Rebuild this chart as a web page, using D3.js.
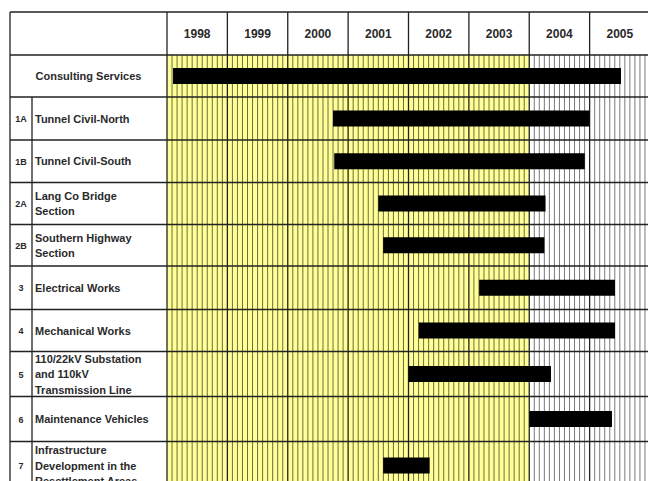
<!DOCTYPE html>
<html>
<head>
<meta charset="utf-8">
<script src="https://cdn.jsdelivr.net/npm/d3@7"></script>
<style>
  body { margin: 0; background: #fff; }
  text { font-family: Arial, "Liberation Sans", sans-serif; font-weight: bold; fill: #2a2a2a; }
</style>
</head>
<body>
<div id="chart"></div>
<script>
const years = [1998, 1999, 2000, 2001, 2002, 2003, 2004, 2005];
const codes = ["", "1A", "1B", "2A", "2B", "3", "4", "5", "6", "7"];
const tasks = [
  ["Consulting Services"],
  ["Tunnel Civil-North"],
  ["Tunnel Civil-South"],
  ["Lang Co Bridge", "Section"],
  ["Southern Highway", "Section"],
  ["Electrical Works"],
  ["Mechanical Works"],
  ["110/22kV Substation", "and 110kV", "Transmission Line"],
  ["Maintenance Vehicles"],
  ["Infrastructure", "Development in the", "Resettlement Areas"]
];
const starts = [1998.1, 2000.75, 2000.77, 2001.5, 2001.58, 2003.17, 2002.17, 2002.0, 2004.0, 2001.58];
const ends   = [2005.52, 2005.0, 2004.92, 2004.27, 2004.25, 2005.42, 2005.42, 2004.36, 2005.37, 2002.35];
const actualEnd = 2004; // yellow shading up to here

const W = 648, H = 481;
const svg = d3.select("#chart").append("svg").attr("width", W).attr("height", H);

// table layout
const left = 10, codeW = 22, labelRight = 167, tableTop = 12, headH = 43;
const rowHeights = [42, 43, 42.5, 42, 41.5, 43.5, 42, 45, 45, 48];
const bodyTop = tableTop + headH, bodyBot = H + 20;
const rowTop = [bodyTop].concat(Array.from(d3.cumsum(rowHeights)).map(v => bodyTop + v));
const rowMid = i => rowTop[i] + rowHeights[i] / 2;
const x = d3.scaleLinear().domain([1998, 2006]).range([labelRight, 650]);
const ink = "#222";

// shading
svg.append("rect").attr("x", x(1998)).attr("y", bodyTop)
  .attr("width", x(actualEnd) - x(1998)).attr("height", bodyBot - bodyTop).attr("fill", "#ffff99");

// monthly lines
const months = d3.range(1998, 2006, 1 / 12).filter(m => Math.abs(m - Math.round(m)) > 1e-6);
svg.append("g").selectAll("line").data(months).join("line")
  .attr("x1", d => x(d)).attr("x2", d => x(d))
  .attr("y1", bodyTop).attr("y2", bodyBot)
  .attr("stroke", d => d < actualEnd ? "#5e5e30" : "#6a6a6a")
  .attr("stroke-width", 0.9);

// year lines
svg.append("g").selectAll("line").data(years.concat([2006])).join("line")
  .attr("x1", d => x(d)).attr("x2", d => x(d))
  .attr("y1", tableTop).attr("y2", bodyBot)
  .attr("stroke", ink).attr("stroke-width", 1.3);

// horizontal row lines
const hLines = [tableTop].concat(rowTop.slice(0, tasks.length));
svg.append("g").selectAll("line").data(hLines).join("line")
  .attr("x1", left).attr("x2", W)
  .attr("y1", d => d).attr("y2", d => d)
  .attr("stroke", ink).attr("stroke-width", 1.3);

// left borders
svg.append("line").attr("x1", left).attr("x2", left).attr("y1", tableTop).attr("y2", bodyBot)
  .attr("stroke", ink).attr("stroke-width", 1.3);
svg.append("line").attr("x1", left + codeW).attr("x2", left + codeW).attr("y1", rowTop[1]).attr("y2", bodyBot)
  .attr("stroke", ink).attr("stroke-width", 1.3);

// year header
svg.append("g").selectAll("text").data(years).join("text")
  .attr("x", d => x(d + 0.5)).attr("y", tableTop + headH / 2 + 4)
  .attr("text-anchor", "middle").attr("font-size", 12).text(d => d);

// bars
svg.append("g").selectAll("rect").data(tasks).join("rect")
  .attr("x", (d, i) => x(starts[i]))
  .attr("width", (d, i) => x(ends[i]) - x(starts[i]))
  .attr("y", (d, i) => rowMid(i) - 8)
  .attr("height", 16).attr("fill", "#000");

// codes
svg.append("g").selectAll("text").data(codes).join("text")
  .attr("x", left + codeW / 2).attr("y", (d, i) => rowMid(i) + 3.5)
  .attr("text-anchor", "middle").attr("font-size", 9).text(d => d);

// task labels
const lab = svg.append("g").selectAll("text").data(tasks).join("text")
  .attr("font-size", 11)
  .attr("text-anchor", (d, i) => i === 0 ? "middle" : "start")
  .attr("x", (d, i) => i === 0 ? (left + labelRight) / 2 : left + codeW + 3)
  .attr("y", (d, i) => rowMid(i) + 4 - (d.length - 1) * 15.5 / 2);
lab.each(function(d) {
  const t = d3.select(this);
  d.forEach((s, k) => {
    t.append("tspan").attr("x", t.attr("x")).attr("dy", k === 0 ? 0 : 15.5).text(s);
  });
});
</script>
</body>
</html>
